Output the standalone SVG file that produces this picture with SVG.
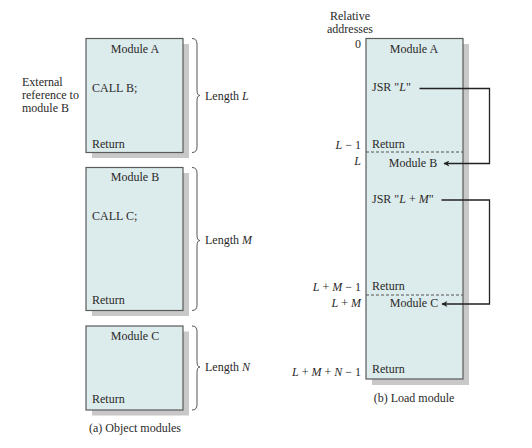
<svg xmlns="http://www.w3.org/2000/svg" width="532" height="448" viewBox="0 0 532 448">
<defs>
<style>
text{font-family:"Liberation Serif","Times New Roman",serif;font-size:12px;fill:#2a2a2a}
.it{font-style:italic}
.box{fill:#dcebeb;stroke:#5a5a5a;stroke-width:1.2}
.sh{fill:#c8c8c8}
.br{fill:none;stroke:#555;stroke-width:1}
.dash{stroke:#555;stroke-width:1;stroke-dasharray:3,2}
.con{fill:none;stroke:#222;stroke-width:1.3}
.m{text-anchor:middle}
.r{text-anchor:end}
</style>
<marker id="ah" viewBox="0 0 10 10" refX="9" refY="5" markerWidth="8" markerHeight="6" orient="auto" markerUnits="userSpaceOnUse">
<path d="M10,5 L0,0 L3,5 L0,10 Z" fill="#222"/>
</marker>
</defs>
<rect width="532" height="448" fill="#fff"/>

<g id="moduleA">
<rect class="sh" x="92" y="44" width="97" height="114"/>
<rect class="box" x="86" y="38.5" width="97" height="114"/>
<text class="m" x="135" y="52.5">Module A</text>
<text x="92" y="92">CALL B;</text>
<text x="92" y="148">Return</text>
<path class="br" d="M192,38.5 Q197,38.5 197,44 V90 Q197,95.5 200,95.5 Q197,95.5 197,101 V147 Q197,152.5 192,152.5"/>
<text x="205" y="99.5">Length <tspan class="it">L</tspan></text>
</g>

<g id="extref">
<text x="22" y="86">External</text>
<text x="22" y="99">reference to</text>
<text x="22" y="112">module B</text>
</g>

<g id="moduleB">
<rect class="sh" x="92" y="173" width="97" height="143"/>
<rect class="box" x="86" y="167.5" width="97" height="143"/>
<text class="m" x="135" y="181">Module B</text>
<text x="92" y="220">CALL C;</text>
<text x="92" y="304">Return</text>
<path class="br" d="M192,167.5 Q197,167.5 197,173 V235 Q197,240.5 200,240.5 Q197,240.5 197,246 V305 Q197,310.5 192,310.5"/>
<text x="205" y="244">Length <tspan class="it">M</tspan></text>
</g>

<g id="moduleC">
<rect class="sh" x="92" y="331.5" width="97" height="84"/>
<rect class="box" x="86" y="326" width="97" height="84"/>
<text class="m" x="135" y="340">Module C</text>
<text x="92" y="403">Return</text>
<path class="br" d="M192,326 Q197,326 197,331.5 V361.5 Q197,367 200,367 Q197,367 197,372.5 V404.5 Q197,410 192,410"/>
<text x="205" y="371">Length <tspan class="it">N</tspan></text>
<text x="89" y="432">(a) Object modules</text>
</g>

<g id="loadModule">
<text class="m" x="350" y="20">Relative</text>
<text class="m" x="350" y="32.5">addresses</text>
<rect class="sh" x="372" y="44" width="97" height="341"/>
<rect class="box" x="366" y="38.5" width="97" height="340.5"/>
<text class="r" x="361" y="48">0</text>
<text class="m" x="414" y="52.5">Module A</text>
<text x="372" y="91">JSR "<tspan class="it">L</tspan>"</text>
<text class="r" x="361" y="148.5"><tspan class="it">L</tspan> − 1</text>
<text x="372" y="148">Return</text>
<line class="dash" x1="366" y1="152" x2="463" y2="152"/>
<text class="r" x="361" y="164.5" font-style="italic">L</text>
<text class="m" x="413" y="167">Module B</text>
<text x="372" y="203">JSR "<tspan class="it">L</tspan> + <tspan class="it">M</tspan>"</text>
<text class="r" x="361" y="291"><tspan class="it">L</tspan> + <tspan class="it">M</tspan> − 1</text>
<text x="372" y="290">Return</text>
<line class="dash" x1="366" y1="295" x2="463" y2="295"/>
<text class="r" x="361" y="307"><tspan class="it">L</tspan> + <tspan class="it">M</tspan></text>
<text class="m" x="414" y="307">Module C</text>
<text class="r" x="361" y="375.5"><tspan class="it">L</tspan> + <tspan class="it">M</tspan> + <tspan class="it">N</tspan> − 1</text>
<text x="372" y="373">Return</text>
<text class="m" x="414" y="402">(b) Load module</text>
</g>

<g id="connectors">
<path class="con" d="M419.5,88.5 H489.5 V163.5 H444" marker-end="url(#ah)"/>
<path class="con" d="M441.5,200 H489.5 V304 H442" marker-end="url(#ah)"/>
</g>
</svg>
